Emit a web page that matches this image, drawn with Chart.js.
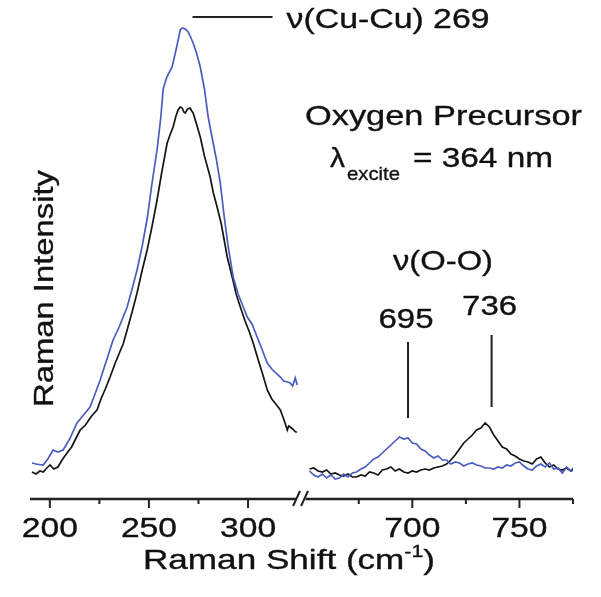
<!DOCTYPE html>
<html><head><meta charset="utf-8">
<script src="https://cdn.jsdelivr.net/npm/chart.js@4.4.0/dist/chart.umd.min.js"></script>
<style>html,body{margin:0;padding:0;background:#fff}#wrap{width:601px;height:597px}</style>
</head><body><div id="wrap"><canvas id="c" width="601" height="597"></canvas></div>
<script>
// ---------- DATA (Raman shift in cm-1, intensity in arbitrary units) ----------
const leftShiftBlue = [191,193,196.6,199,201.6,204,206.7,210,213.7,217,220.3,223,225.4,228.5,231.9,235,239,241.5,244,246.5,249.1,251.5,254.1,256,257.2,259,261.7,264,265.8,266.8,268.3,269.8,271,272.3,274,275.9,278,279.9,282,284,286,288,290,292.5,295,297,299.6,302,304.6,307,309.7,312,314,316.3,318,320,321.3,322.5,323.8,324.8];
const leftBlue      = [36,35,34,40,49,47,49,60,76,84,92,106,119,138,159,172,192,210,229,252,280,315,349,382,410,422,432,452,469,471,470,467,462,456,446,432,410,382,360,340,316,282,252,222,205,195,182,175,162,150,136,130,126,122,118,117,116,113,121,114];

const leftShiftBlack = [191,193,195,196.6,198.5,200.1,202,204.1,206.5,208.7,211,213,215.3,218,220,221.5,223.8,226,228,230.4,233,235.5,237,239,241.5,244,246.5,249.1,251.5,254.1,256.5,259.2,260.8,262.2,263.5,264.7,265.8,266.8,267.6,268.3,269.5,270.8,271.6,272.3,274,275.9,278,280.9,282.5,284.4,286.5,289.5,292.5,294,296.1,298.5,300.5,302.6,305,307.5,309.7,312,314,316.3,318,319.8,320.5,321.3,322.5,324,324.8];
const leftBlack      = [27,25,28,27,31,34,30,32,40,46,52,60,69,74,80,84,89,101,110,122,136,148,155,169,187,206,228,249,272,299,327,356,365,372,382,389,392,391,387,386,390,391,388,386,375,362,343,322,306,292,275,242,218,205,192,178,168,156,140,124,109,100,95,89,80,69,73,72,70,67,67];

const rightShiftBlue = [652,654,656,658,660,662,664,666,668,670,672,674,676,678,680,682,684,686,688,690,692,694,696,698,700,702,704,706,708,710,712,714,716,718,720,722,724,726,728,730,732,734,736,738,740,742,744,746,748,750,752,754,756,758,760,762,764,766,768,770,772,774,775];
const rightBlue      = [28,24,22,25,21,24,20,21,25,22,26,27,30,32,36,40,42,46,50,54,58,62,60,61,56,55,50,48,44,41,43,39,39,35,37,36,33,35,36,34,33,31,31,30,32,31,34,33,36,37,33,30,29,33,35,32,36,30,31,26,32,28,31];

const rightShiftBlack = [652,654,656,658,660,662,664,666,668,670,672,674,676,678,680,682,684,686,688,690,692,694,696,698,700,702,704,706,708,710,712,714,716,718,720,722,724,726,728,730,732,734,736,738,740,742,744,746,748,750,752,754,756,758,760,762,764,766,768,770,772,774,775];
const rightBlack      = [30,31,28,27,29,25,26,24,23,25,22,22,24,23,27,26,24,29,30,32,28,30,27,26,28,27,29,30,29,31,32,33,35,39,44,50,56,60,64,69,71,76,72,64,58,52,50,45,43,40,38,37,35,40,42,36,32,34,30,29,31,28,29];

const tickValues  = [200,225,250,275,300,675,700,725,750,775];
const labelValues = [200,250,300,700,750];
const peakLabels  = ['695','736'];
const peakMarkShift = [698,737];

// ---------- broken-axis mapping ----------
const LEFT_MIN = 190, RIGHT_MIN = 652, RIGHT_MAX = 775;
const BREAK_U = 141, RIGHT_GAIN = 2.14/1.98;
function toAxis(v){ return v < 500 ? v - LEFT_MIN : BREAK_U + (v - RIGHT_MIN) * RIGHT_GAIN; }
const X_MAX = toAxis(RIGHT_MAX);
const pairs = (xs, ys) => xs.map((x,i)=>({x: toAxis(x), y: ys[i]}));

const BLUE = '#4a5cbf', BLACK = '#151515';
const FONT = '"Liberation Sans", Arial, Helvetica, sans-serif';

function drawT(ctx, text, x, y, size, sx, align){
  ctx.font = size + 'px ' + FONT;
  ctx.save(); ctx.translate(x, y); ctx.scale(sx, 1);
  ctx.textAlign = align || 'left'; ctx.textBaseline = 'alphabetic';
  ctx.lineWidth = 0.35; ctx.strokeStyle = '#111'; ctx.lineJoin = 'round';
  ctx.fillText(text, 0, 0); ctx.strokeText(text, 0, 0); ctx.restore();
}
function fitText(ctx, text, x, y, size, width, align){
  ctx.font = size + 'px ' + FONT;
  const sx = width / ctx.measureText(text).width;
  drawT(ctx, text, x, y, size, sx, align);
}

const decor = {
  id: 'decor',
  afterDraw(chart){
    const ctx = chart.ctx, xs = chart.scales.x, ys = chart.scales.y;
    const ca = chart.chartArea;
    const y0 = ys.getPixelForValue(0);
    ctx.save();
    ctx.fillStyle = '#111'; ctx.strokeStyle = '#222';
    // axis line with break
    const leftEnd = xs.getPixelForValue(toAxis(325)) - 1;
    const rightStart = xs.getPixelForValue(toAxis(RIGHT_MIN)) - 4;
    ctx.lineWidth = 2.5; ctx.lineCap = 'butt';
    ctx.beginPath(); ctx.moveTo(ca.left, y0); ctx.lineTo(leftEnd, y0);
    ctx.moveTo(rightStart, y0); ctx.lineTo(ca.right, y0); ctx.stroke();
    // break marks
    ctx.lineWidth = 2;
    const bx = (leftEnd + rightStart) / 2;
    ctx.beginPath();
    ctx.moveTo(bx - 8, y0 + 7); ctx.lineTo(bx - 1, y0 - 8);
    ctx.moveTo(bx, y0 + 7); ctx.lineTo(bx + 7, y0 - 8);
    ctx.stroke();
    // ticks
    tickValues.forEach(v => {
      const px = xs.getPixelForValue(toAxis(v));
      const major = labelValues.includes(v);
      ctx.lineWidth = 2; ctx.strokeStyle = '#222';
      ctx.beginPath(); ctx.moveTo(px, y0); ctx.lineTo(px, y0 + (major ? 9 : 5)); ctx.stroke();
    });
    // tick labels
    labelValues.forEach(v => {
      const px = xs.getPixelForValue(toAxis(v));
      drawT(ctx, String(v), px, 537, 28, 1.2, 'center');
    });
    // x title with superscript
    {
      const parts = [['Raman Shift (cm', 28, 0], ['-1', 17, -12], [')', 28, 0]];
      let total = 0;
      parts.forEach(p => { ctx.font = p[1] + 'px ' + FONT; total += ctx.measureText(p[0]).width; });
      const sx = 292 / total;
      let x = 143;
      parts.forEach(p => {
        ctx.font = p[1] + 'px ' + FONT;
        const w = ctx.measureText(p[0]).width;
        drawT(ctx, p[0], x, 569 + p[2], p[1], sx, 'left');
        x += w * sx;
      });
    }
    // y title rotated
    {
      ctx.font = '28px ' + FONT;
      const t = 'Raman Intensity';
      const sx = 237 / ctx.measureText(t).width;
      ctx.save(); ctx.translate(53, 288.5); ctx.rotate(-Math.PI/2);
      drawT(ctx, t, 0, 0, 28, sx, 'center');
      ctx.restore();
    }
    // Cu-Cu annotation
    const cuX = xs.getPixelForValue(toAxis(272));
    const cuY = ys.getPixelForValue(482);
    ctx.lineWidth = 2; ctx.strokeStyle = '#222';
    ctx.beginPath(); ctx.moveTo(cuX, cuY); ctx.lineTo(cuX + 80, cuY); ctx.stroke();
    fitText(ctx, 'ν(Cu-Cu) 269', cuX + 94, 28, 27, 203, 'left');
    // sample description
    fitText(ctx, 'Oxygen Precursor', 305, 125, 28, 277, 'left');
    fitText(ctx, 'λ', 330, 167, 28, 15, 'left');
    fitText(ctx, 'excite', 347, 180, 19, 53, 'left');
    fitText(ctx, '= 364 nm', 413, 167, 28, 140, 'left');
    // O-O annotation
    fitText(ctx, 'ν(O-O)', 393, 270, 28, 100, 'left');
    const markTop = [157, 164], markBot = [81, 92], labBase = [328, 315];
    peakMarkShift.forEach((v, i) => {
      const px = xs.getPixelForValue(toAxis(v));
      ctx.lineWidth = 2; ctx.strokeStyle = '#222';
      ctx.beginPath(); ctx.moveTo(px, ys.getPixelForValue(markTop[i])); ctx.lineTo(px, ys.getPixelForValue(markBot[i])); ctx.stroke();
      fitText(ctx, peakLabels[i], px - 2, labBase[i], 28, 55, 'center');
    });
    ctx.restore();
  }
};

const ds = (xs, ys, color) => ({data: pairs(xs, ys), borderColor: color, borderWidth: 1.7, pointRadius: 0, tension: 0, fill: false});

new Chart(document.getElementById('c').getContext('2d'), {
  type: 'line',
  data: { datasets: [
    ds(leftShiftBlue, leftBlue, BLUE),
    ds(leftShiftBlack, leftBlack, BLACK),
    ds(rightShiftBlue, rightBlue, BLUE),
    ds(rightShiftBlack, rightBlack, BLACK)
  ]},
  options: {
    responsive: false, animation: false, parsing: true,
    layout: { padding: { left: 30, right: 28, top: 0, bottom: 98 } },
    plugins: { legend: { display: false }, tooltip: { enabled: false } },
    scales: {
      x: { type: 'linear', display: false, min: 0, max: X_MAX },
      y: { display: false, min: 0, max: 499 }
    }
  },
  plugins: [decor]
});
</script>
</body></html>
